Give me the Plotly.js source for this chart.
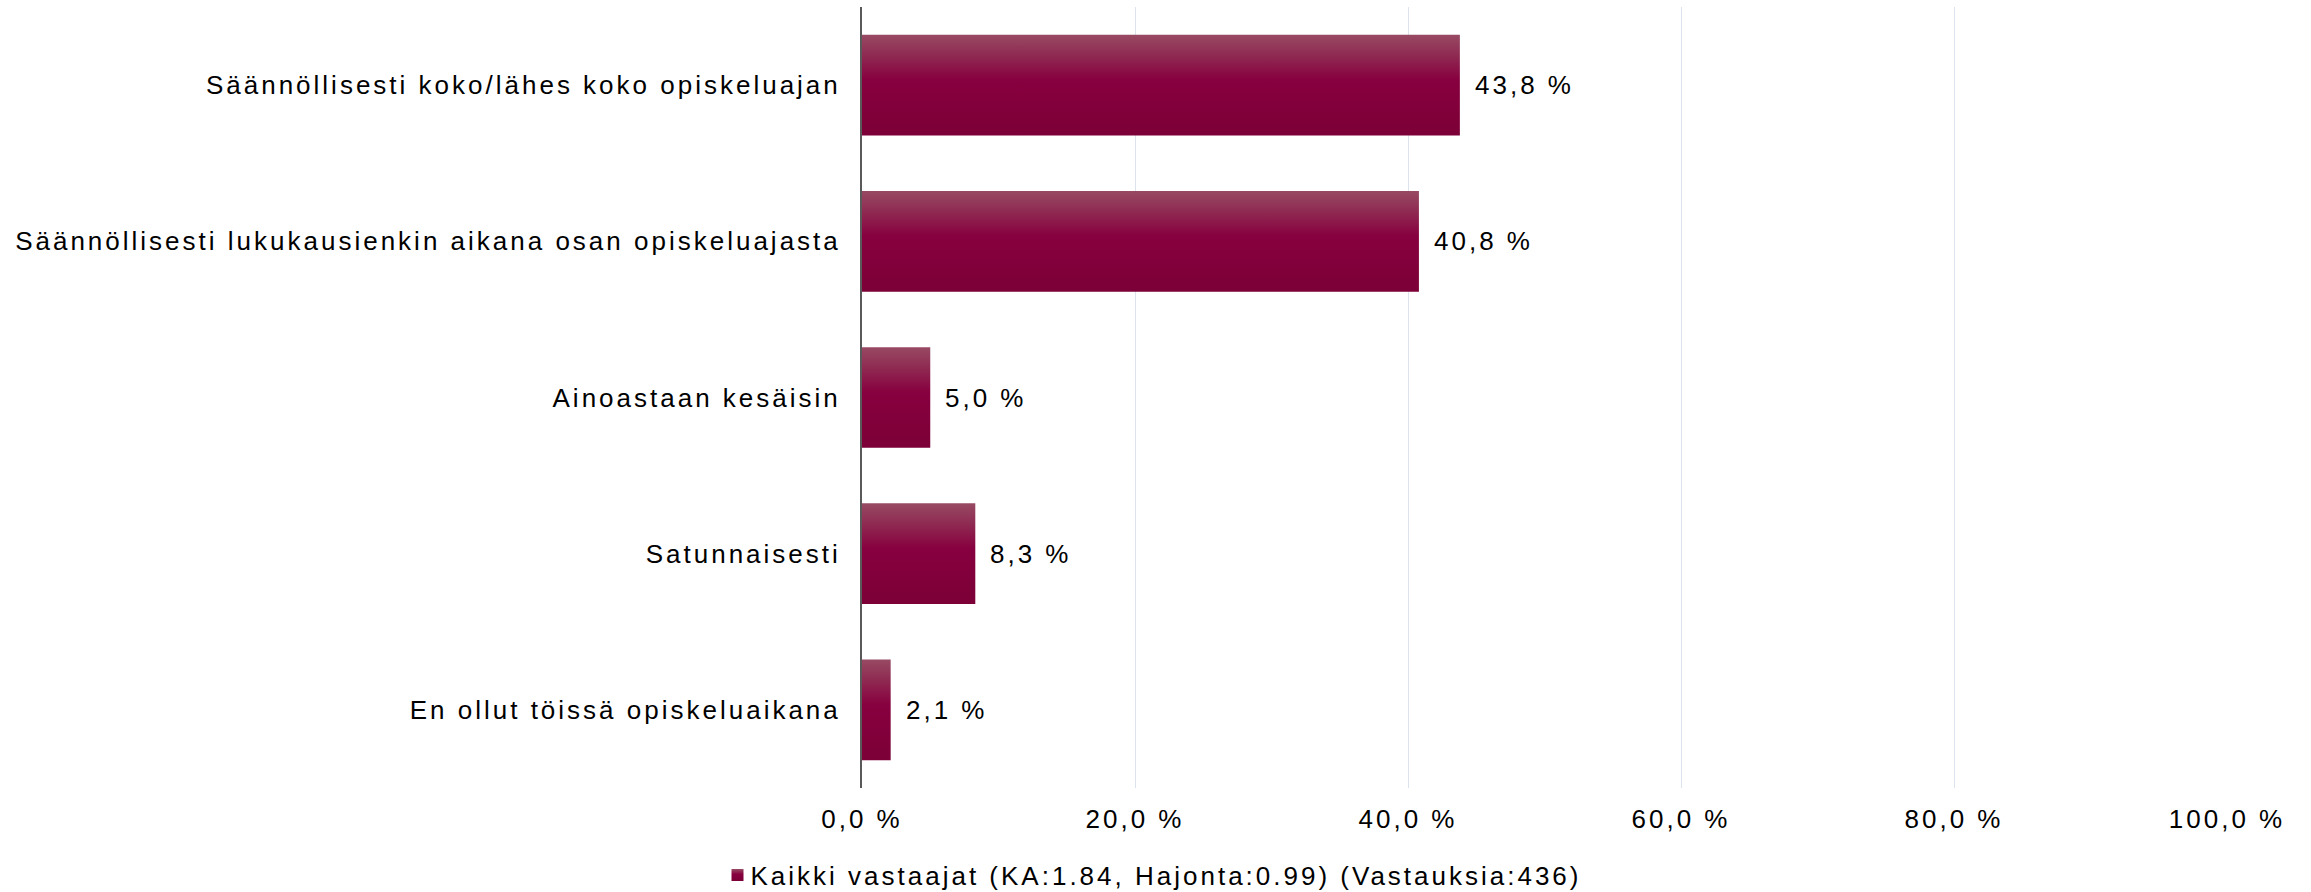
<!DOCTYPE html>
<html>
<head>
<meta charset="utf-8">
<script src="https://cdn.plot.ly/plotly-3.0.1.min.js"></script>
<style>
  html, body { margin: 0; padding: 0; background: #ffffff; }
  #chart { width: 2311px; height: 892px; }
  svg text { letter-spacing: 3px; }
</style>
</head>
<body>
<div id="chart"></div>
<script>
// ---- Data ----
const categories = [
  "Säännöllisesti koko/lähes koko opiskeluajan",
  "Säännöllisesti lukukausienkin aikana osan opiskeluajasta",
  "Ainoastaan kesäisin",
  "Satunnaisesti",
  "En ollut töissä opiskeluaikana"
];
const values = [43.8, 40.8, 5.0, 8.3, 2.1];
const seriesName = "Kaikki vastaajat (KA:1.84, Hajonta:0.99) (Vastauksia:436)";
const tickValues = [0, 20, 40, 60, 80, 100];
const tickLabels = ["0,0 %", "20,0 %", "40,0 %", "60,0 %", "80,0 %", "100,0 %"];

const fmt = v => v.toFixed(1).replace('.', ',') + ' %';
const FONT = 'Liberation Sans, Arial, sans-serif';
const FS = 26;

const trace = {
  type: 'bar',
  orientation: 'h',
  x: values,
  y: categories,
  name: seriesName,
  marker: { color: '#87003f', line: { width: 0 } },
  showlegend: true,
  hoverinfo: 'skip'
};

const annotations = values.map((v, i) => ({
  x: v,
  y: categories[i],
  xref: 'x',
  yref: 'y',
  text: fmt(v),
  showarrow: false,
  xanchor: 'left',
  yanchor: 'middle',
  xshift: 13,
  font: { family: FONT, size: FS, color: '#000000' }
}));

const layout = {
  width: 2311,
  height: 892,
  paper_bgcolor: '#ffffff',
  plot_bgcolor: '#ffffff',
  margin: { l: 862, r: 84, t: 7, b: 104, pad: 0 },
  bargap: 0.355,
  font: { family: FONT, size: FS, color: '#000000' },
  xaxis: {
    range: [0, 100],
    tickvals: tickValues,
    ticktext: tickLabels,
    showgrid: true,
    gridcolor: '#dde3ee',
    gridwidth: 1,
    zeroline: false,
    showline: false,
    ticks: '',
    ticklabelstandoff: 13,
    tickfont: { family: FONT, size: FS, color: '#000000' },
    fixedrange: true
  },
  yaxis: {
    type: 'category',
    autorange: 'reversed',
    showgrid: false,
    zeroline: false,
    showline: true,
    linecolor: '#595959',
    linewidth: 2,
    ticks: '',
    ticklabelstandoff: 14,
    tickfont: { family: FONT, size: FS, color: '#000000' },
    fixedrange: true
  },
  showlegend: true,
  legend: {
    orientation: 'h',
    xref: 'container',
    yref: 'container',
    x: 0.5,
    xanchor: 'center',
    y: 0.019,
    yanchor: 'middle',
    font: { family: FONT, size: FS, color: '#000000' },
    bgcolor: 'rgba(0,0,0,0)',
    borderwidth: 0
  },
  annotations: annotations
};

Plotly.newPlot('chart', [trace], layout, { staticPlot: true, displayModeBar: false }).then(gd => {
  // vertical gradient on bars and legend symbol
  const svgNS = 'http://www.w3.org/2000/svg';
  const defs = gd.querySelector('.main-svg defs');
  const grad = document.createElementNS(svgNS, 'linearGradient');
  grad.setAttribute('id', 'barGrad');
  grad.setAttribute('x1', '0'); grad.setAttribute('y1', '0');
  grad.setAttribute('x2', '0'); grad.setAttribute('y2', '1');
  [['0%', '#984a63'], ['20%', '#8f2b52'], ['45%', '#87003f'], ['100%', '#7c0037']].forEach(([o, c]) => {
    const s = document.createElementNS(svgNS, 'stop');
    s.setAttribute('offset', o);
    s.setAttribute('stop-color', c);
    grad.appendChild(s);
  });
  defs.appendChild(grad);
  gd.querySelectorAll('.trace.bars .point path, .legendpoints path').forEach(p => {
    p.style.fill = 'url(#barGrad)';
  });
  // tighten gap between legend symbol and its text
  gd.querySelectorAll('.legendtext').forEach(t => {
    const x = parseFloat(t.getAttribute('x')) || 0;
    t.setAttribute('x', x - 7);
  });
});
</script>
</body>
</html>
